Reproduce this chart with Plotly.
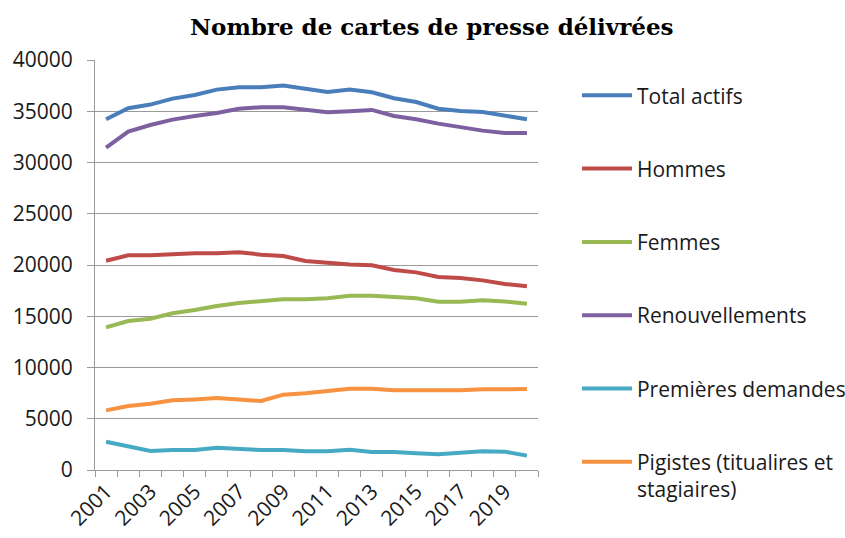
import plotly.graph_objects as go

years = list(range(2001, 2021))
total_actifs = [34220, 35290, 35650, 36230, 36590, 37110, 37340, 37340, 37500, 37150,
                36880, 37110, 36850, 36270, 35900, 35250, 35030, 34930, 34570, 34220]
hommes = [20420, 20940, 20940, 21040, 21140, 21140, 21240, 21010, 20880, 20390,
          20200, 20060, 19970, 19510, 19280, 18830, 18730, 18500, 18150, 17920]
femmes = [13920, 14540, 14760, 15290, 15610, 16000, 16290, 16490, 16650, 16650,
          16750, 17010, 17010, 16880, 16750, 16420, 16420, 16550, 16450, 16230]
renouvellements = [31450, 33010, 33660, 34180, 34540, 34830, 35250, 35390, 35390, 35160,
                   34900, 35000, 35130, 34540, 34220, 33790, 33440, 33110, 32880, 32880]
premieres_demandes = [2760, 2310, 1850, 1950, 1950, 2180, 2050, 1950, 1950, 1820,
                      1820, 1980, 1760, 1760, 1630, 1530, 1690, 1820, 1790, 1400]
pigistes = [5820, 6240, 6470, 6800, 6890, 7020, 6890, 6730, 7350, 7480,
            7710, 7930, 7930, 7770, 7770, 7770, 7770, 7870, 7900, 7900]

series_names = ["Total actifs", "Hommes", "Femmes", "Renouvellements",
                "Premières demandes", "Pigistes (titualires et<br>stagiaires)"]
series_values = [total_actifs, hommes, femmes, renouvellements, premieres_demandes, pigistes]
series_colors = ["#4A7EBB", "#BE4B48", "#98B954", "#7D60A0", "#46AAC5", "#F69240"]

x_tick_labels = [str(y) for y in range(2001, 2021, 2)]

fig = go.Figure()
for i, (name, vals, col) in enumerate(zip(series_names, series_values, series_colors)):
    fig.add_trace(go.Scatter(
        x=years, y=vals, name=name, mode="lines",
        line=dict(color=col, width=4),
        legendgroup=f"g{i}",
    ))

fig.update_layout(
    width=845, height=538,
    paper_bgcolor="white", plot_bgcolor="white",
    margin=dict(l=95, r=307, t=60, b=68, autoexpand=False),
    font=dict(family="Open Sans, sans-serif", size=20, color="#1a1a1a"),
    title=dict(text="<b>Nombre de cartes de presse délivrées</b>",
               font=dict(family="DejaVu Serif, serif", size=23, color="#000000"),
               x=0.511, xref="container", xanchor="center",
               y=1 - 27 / 538, yref="container", yanchor="middle"),
    showlegend=True,
    legend=dict(x=1.088, xanchor="left", y=0.963, yanchor="top",
                traceorder="grouped", tracegroupgap=43, maxheight=538,
                itemwidth=50,
                font=dict(family="Open Sans, sans-serif", size=21, color="#1a1a1a"),
                bgcolor="rgba(0,0,0,0)", valign="top"),
)

fig.update_xaxes(
    type="linear", range=[2000.5, 2020.5], automargin=False,
    tickmode="array", tickvals=list(range(2001, 2021, 2)), ticktext=x_tick_labels,
    tickangle=-45, ticks="outside", ticklen=0, tickcolor="#999999",
    showgrid=False, zeroline=False,
    showline=True, linecolor="#999999", linewidth=1,
    tickfont=dict(size=21, color="#1a1a1a"),
    minor=dict(tickmode="linear", tick0=2000.5, dtick=1, ticks="outside",
               ticklen=6, tickcolor="#999999", showgrid=False),
)
fig.update_yaxes(
    range=[0, 40000], dtick=5000, tick0=0, tickformat="d", automargin=False,
    showgrid=True, gridcolor="#9a9a9a", gridwidth=1,
    zeroline=False, showline=True, linecolor="#999999", linewidth=1,
    ticks="outside", ticklen=7, tickcolor="#999999",
    ticklabelstandoff=10,
    tickfont=dict(size=21, color="#1a1a1a"),
)

fig.write_html("out.html", config={"displayModeBar": False},
               post_script="document.body.style.margin='0';")
